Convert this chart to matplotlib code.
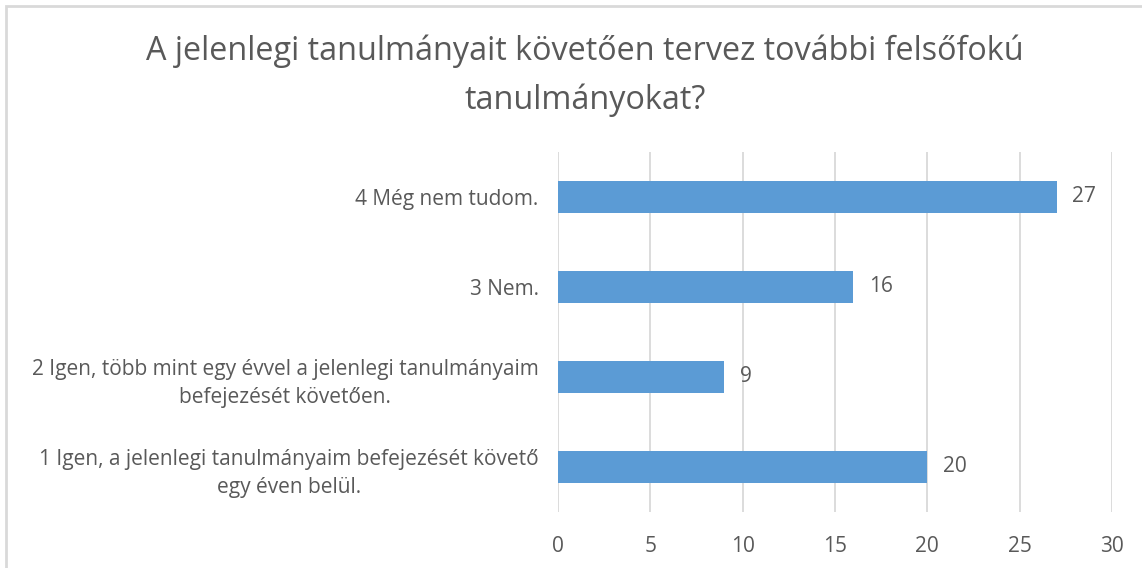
import matplotlib
matplotlib.use("Agg")
import matplotlib.pyplot as plt
from matplotlib.patches import Rectangle

title = "A jelenlegi tanulmányait követően tervez további felsőfokú\ntanulmányokat?"
categories = [
    "1 Igen, a jelenlegi tanulmányaim befejezését követő\negy éven belül.",
    "2 Igen, több mint egy évvel a jelenlegi tanulmányaim\nbefejezését követően.",
    "3 Nem.",
    "4 Még nem tudom.",
]
values = [20, 9, 16, 27]
xticks = [0, 5, 10, 15, 20, 25, 30]

plt.rcParams['font.family'] = ['Open Sans', 'DejaVu Sans']
text_color = '#595959'

fig = plt.figure(figsize=(11.42, 5.68), dpi=100)
ax = fig.add_axes([558/1142, 1-512/568, (1112-558)/1142, (512-152)/568])

ypos = list(range(len(categories)))
ax.barh(ypos, values, height=0.355, color='#5B9BD5', zorder=3)
for y, v in zip(ypos, values):
    ax.text(v + 0.85, y, str(v), va='center', ha='left', fontsize=15, color=text_color)

ax.set_xlim(0, 30)
ax.set_ylim(-0.5, len(categories) - 0.5)
ax.set_xticks(xticks)
ax.set_xticklabels([str(t) for t in xticks], fontsize=15, color=text_color)
ax.set_yticks(ypos)
ax.set_yticklabels(categories, fontsize=15, color=text_color, ha='right',
                   multialignment='center', linespacing=1.45)
ax.tick_params(axis='y', length=0, pad=14)
ax.tick_params(axis='x', length=0, pad=17)
ax.grid(axis='x', color='#D9D9D9', linewidth=1.3, zorder=0)
for s in ax.spines.values():
    s.set_visible(False)

fig.text(585/1142, 1 - 76/568, title, ha='center', va='center', fontsize=23.3,
         color=text_color, linespacing=1.62)

fig.patches.append(Rectangle((6/1142, -0.1), 1.2, 1 - 6/568 + 0.1, transform=fig.transFigure,
                             fill=False, edgecolor='#D9D9D9', linewidth=2, zorder=0))

fig.savefig('out.png', dpi=100)
